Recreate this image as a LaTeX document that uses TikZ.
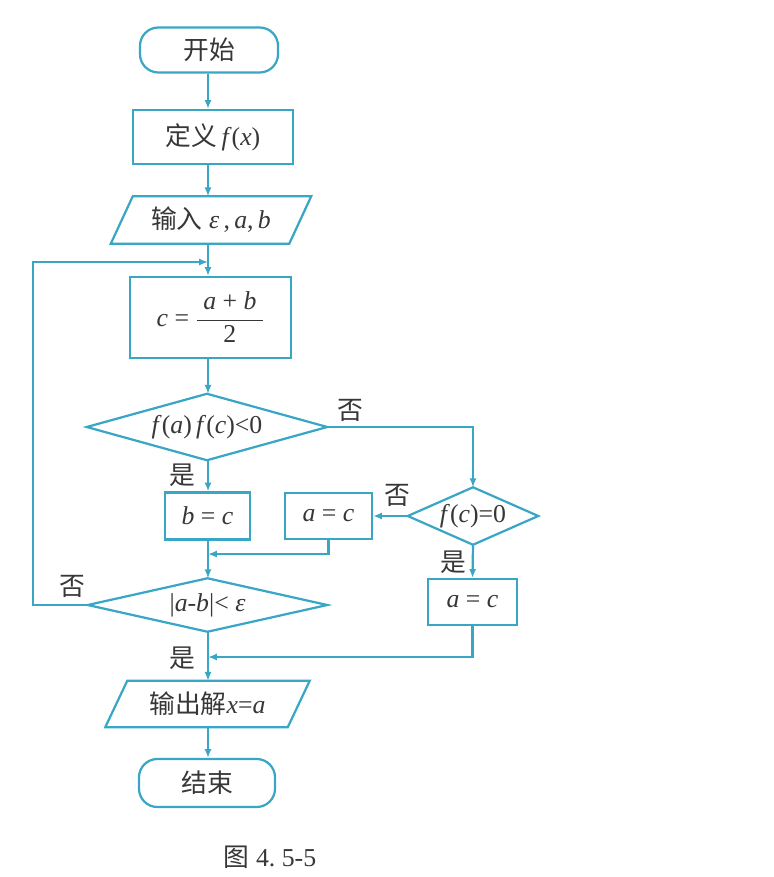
\documentclass[tikz,border=0pt]{standalone}
\usepackage{fontspec}
\setmainfont{Liberation Serif}
\newfontfamily\cjk{Noto Sans CJK SC}
\usetikzlibrary{arrows.meta,calc}
\definecolor{ln}{RGB}{58,166,198}
\definecolor{tx}{RGB}{55,55,55}
\newcommand\vi[1]{\textit{#1}}
\begin{document}
\begin{tikzpicture}[x=0.03cm,y=-0.03cm,
  every node/.style={text=tx,font=\fontsize{22}{26}\selectfont},
  line/.style={draw=ln,line width=1.9pt},
  arr/.style={line,-{Latex[length=7.5pt,width=6pt]}},
  box/.style={line,rectangle,inner sep=0pt},
  ghost/.style={rectangle,inner sep=0pt},
  term/.style={box,rounded corners=0.55cm},
  lbl/.style={inner sep=0pt}]
\useasboundingbox[fill=white] (0,0) rectangle (773,877);
% axis
\coordinate (ax) at (208,0);
\coordinate (jn) at (208,262);
\coordinate (lpx) at (33,0);
\coordinate (j2) at (208,554);
\coordinate (j3) at (208,657);
% nodes
\node[term,minimum width=4.14cm,minimum height=1.35cm] (start) at (209,50) {\cjk 开始};
\node[box,minimum width=4.8cm,minimum height=1.62cm] (def) at (213,137) {{\cjk 定义}\,\vi{f}(\vi{x})};
\node[ghost,minimum width=5.34cm,minimum height=1.41cm] (inp) at (211,220) {{\cjk 输入}\ \vi{ε}\,,\,\vi{a},\,\vi{b}};
\draw[line,line join=miter] ($(inp.north west)+(11,0)$) -- ($(inp.north east)+(11,0)$) -- ($(inp.south east)+(-11,0)$) -- ($(inp.south west)+(-11,0)$) -- cycle;
\node[box,minimum width=4.83cm,minimum height=2.43cm] (cbox) at (210.5,317.5) {\vi{c} = $\displaystyle\frac{\mbox{\hspace{0.25em}\vi{a} + \vi{b}\hspace{0.25em}}}{\mbox{2}}$\hspace{0.3em}};
\node[ghost,minimum width=7.2cm,minimum height=1.98cm] (dia1) at (207,427) {\vi{f}(\vi{a})\,\vi{f}(\vi{c})<0};
\draw[line] (dia1.north) -- (dia1.east) -- (dia1.south) -- (dia1.west) -- cycle;
\node[box,minimum width=2.55cm,minimum height=1.41cm] (bc) at (207.5,516) {\vi{b} = \vi{c}};
\node[box,minimum width=2.61cm,minimum height=1.38cm] (ac1) at (328.5,516) {\vi{a} = \vi{c}};
\node[ghost,minimum width=3.9cm,minimum height=1.71cm] (dia2) at (473,516) {\vi{f}(\vi{c})=0};
\draw[line] (dia2.north) -- (dia2.east) -- (dia2.south) -- (dia2.west) -- cycle;
\node[box,minimum width=2.67cm,minimum height=1.38cm] (ac2) at (472.5,602) {\vi{a} = \vi{c}};
\node[ghost,minimum width=7.17cm,minimum height=1.59cm] (dia3) at (207.5,605) {|\vi{a}-\vi{b}|< \vi{ε}};
\draw[line] (dia3.north) -- (dia3.east) -- (dia3.south) -- (dia3.west) -- cycle;
\node[ghost,minimum width=5.46cm,minimum height=1.38cm] (out) at (207.5,704) {{\cjk 输出解}\vi{x}=\vi{a}};
\draw[line,line join=miter] ($(out.north west)+(11,0)$) -- ($(out.north east)+(11,0)$) -- ($(out.south east)+(-11,0)$) -- ($(out.south west)+(-11,0)$) -- cycle;
\node[term,minimum width=4.08cm,minimum height=1.44cm] (end) at (207,783) {\cjk 结束};
% labels
\node[lbl] (n1) at (350,410) {\cjk 否};
\node[lbl] (n2) at (397,495) {\cjk 否};
\node[lbl] (y2) at (453,562) {\cjk 是};
\node[lbl] (y1) at (182,475) {\cjk 是};
\node[lbl] (n3) at (72,586) {\cjk 否};
\node[lbl] (y3) at (182,658) {\cjk 是};
\node[lbl] (cap) at (270,857) {{\cjk 图}\ 4.\hspace{0.25em}5-5};
% connectors
\draw[arr] (ax|-start.south) -- (ax|-def.north);
\draw[arr] (ax|-def.south) -- (ax|-inp.north);
\draw[arr] (ax|-inp.south) -- (ax|-cbox.north);
\draw[arr] (dia3.west) -- (lpx|-dia3.west) -- (lpx|-jn) -- (jn);
\draw[arr] (ax|-cbox.south) -- (ax|-dia1.north);
\draw[arr] (ax|-dia1.south) -- (ax|-bc.north);
\draw[arr] (dia1.east) -| (dia2.north);
\draw[arr] (dia2.west) -- (ac1.east);
\draw[arr] (dia2.south) -- (ac2.north);
\draw[arr] (ax|-bc.south) -- (ax|-dia3.north);
\draw[arr] (ac1.south) -- (ac1.south|-j2) -- (j2);
\draw[arr] (ax|-dia3.south) -- (ax|-out.north);
\draw[arr] (ac2.south) -- (ac2.south|-j3) -- (j3);
\draw[arr] (ax|-out.south) -- (ax|-end.north);
\end{tikzpicture}
\end{document}
